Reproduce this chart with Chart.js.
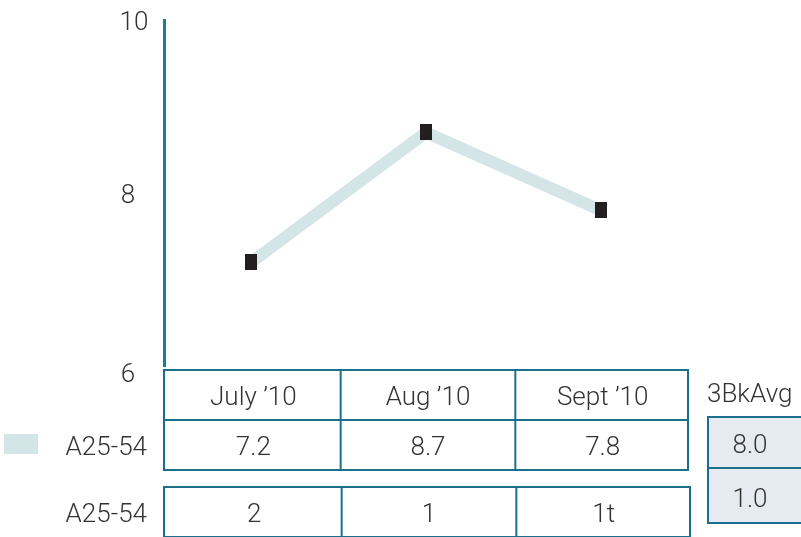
<!DOCTYPE html>
<html>
<head>
<meta charset="utf-8">
<script src="https://cdn.jsdelivr.net/npm/chart.js@4/dist/chart.umd.min.js"></script>
<style>
  html, body { margin:0; padding:0; background:#fff; }
  #wrap { width:801px; height:537px; position:relative; }
</style>
</head>
<body>
<div id="wrap"><canvas id="c" width="801" height="537"></canvas></div>
<script>
// Data
const months = ['July ’10', 'Aug ’10', 'Sept ’10'];
const rating = [7.2, 8.7, 7.8];
const ratingText = ['7.2', '8.7', '7.8'];
const rankText = ['2', '1', '1t'];
const seriesName = 'A25-54';
const avgLabel = '3BkAvg';
const avgValues = ['8.0', '1.0'];
const yTicks = [6, 8, 10];

const FONT = 'Roboto, "Liberation Sans", Arial, sans-serif';
const TXT = '#333333';
const EDGE = '#1b6f8d';
const LINE = '#d3e5e6';

// black marker, a bit taller than wide
const mark = document.createElement('canvas');
mark.width = 12; mark.height = 16;
mark.getContext('2d').fillStyle = '#231f20';
mark.getContext('2d').fillRect(0, 0, 12, 16);

// tables + axis labels drawn from the scales
const tablePlugin = {
  id: 'tables',
  afterDraw(chart){
    const ctx = chart.ctx;
    const xs = chart.scales.x, ys = chart.scales.y;
    const area = chart.chartArea;
    const half = (xs.getPixelForValue(1) - xs.getPixelForValue(0)) / 2;
    const edges = months.map((_, i) => xs.getPixelForValue(i) - half);
    edges.push(xs.getPixelForValue(months.length - 1) + half);
    const L = area.left, R = edges[edges.length - 1];
    const dy = 3; // text baseline nudge

    ctx.save();
    // y tick labels (the bottom one sits a little lower in the original)
    ctx.font = '300 26px ' + FONT;
    ctx.fillStyle = TXT;
    ctx.textAlign = 'center';
    ctx.textBaseline = 'middle';
    yTicks.forEach(v => {
      const off = v === yTicks[0] ? 9 : 3;
      ctx.fillText(String(v), v === 10 ? 134 : 128, ys.getPixelForValue(v) + off);
    });

    ctx.strokeStyle = EDGE;
    ctx.lineWidth = 2;
    // header + values table
    const t1 = area.bottom + 4, rh = 50;
    ctx.strokeRect(L, t1, R - L, rh * 2);
    ctx.beginPath();
    ctx.moveTo(L, t1 + rh); ctx.lineTo(R, t1 + rh);
    edges.slice(1, -1).forEach(x => { ctx.moveTo(x + 2, t1); ctx.lineTo(x + 2, t1 + rh * 2); });
    ctx.stroke();

    // rank table
    const t2 = t1 + rh * 2 + 17;
    ctx.strokeRect(L, t2, R - L + 2, rh);
    ctx.beginPath();
    edges.slice(1, -1).forEach(x => { ctx.moveTo(x + 3, t2); ctx.lineTo(x + 3, t2 + rh); });
    ctx.stroke();

    ctx.fillStyle = TXT;
    months.forEach((m, i) => {
      const cx = (edges[i] + edges[i + 1]) / 2 + 2;
      ctx.fillText(m, cx, t1 + rh / 2 + dy);
      ctx.fillText(ratingText[i], cx, t1 + rh * 1.5 + dy);
      ctx.fillText(rankText[i], cx + 1, t2 + rh / 2 + dy);
    });

    // left labels + legend swatch
    ctx.textAlign = 'right';
    ctx.fillText(seriesName, 147, t1 + rh * 1.5 + dy);
    ctx.fillText(seriesName, 147, t2 + rh / 2 + dy);
    ctx.fillStyle = LINE;
    ctx.fillRect(4, t1 + rh + 14, 34, 20);

    // 3-book average box
    const ax = R + 20, at = t1 + 47;
    ctx.fillStyle = '#e6ebf2';
    ctx.fillRect(ax, at, 120, 106);
    ctx.strokeRect(ax, at, 120, 106);
    ctx.beginPath();
    ctx.moveTo(ax, at + 51); ctx.lineTo(ax + 120, at + 51);
    ctx.stroke();
    ctx.fillStyle = TXT;
    ctx.textAlign = 'left';
    ctx.fillText(avgLabel, ax - 1, t1 + 22 + dy);
    ctx.textAlign = 'center';
    ctx.fillText(avgValues[0], ax + 42, at + 26 + dy);
    ctx.fillText(avgValues[1], ax + 42, at + 80 + dy);
    ctx.restore();
  }
};

new Chart(document.getElementById('c'), {
  type: 'line',
  data: {
    labels: months,
    datasets: [{
      label: seriesName,
      data: rating,
      borderColor: LINE,
      borderWidth: 12,
      tension: 0,
      pointStyle: mark,
      pointRadius: 8,
      pointHoverRadius: 8,
    }]
  },
  options: {
    responsive: false,
    animation: false,
    events: [],
    layout: { padding: { left: 156, right: 113, top: 9, bottom: 171 } },
    plugins: { legend: { display: false }, tooltip: { enabled: false } },
    scales: {
      x: { display: false, offset: true },
      y: {
        min: 6, max: 10,
        grid: { display: false },
        border: { display: true, color: '#1a7b9b', width: 3 },
        ticks: { display: false, stepSize: 2 }
      }
    }
  },
  plugins: [tablePlugin]
});
</script>
</body>
</html>
